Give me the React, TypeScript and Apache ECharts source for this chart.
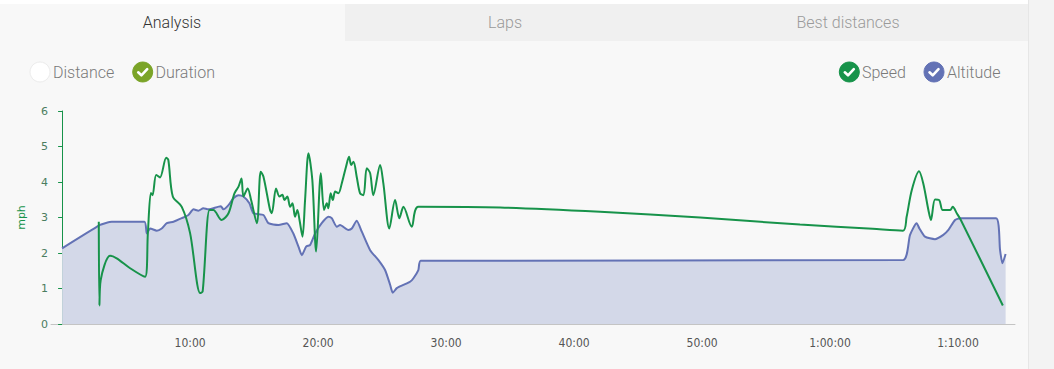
import React, { useEffect, useRef } from "react";
import * as echarts from "echarts";

// Elapsed time (seconds) and speed (mph)
const speedTime = [
  172, 175, 181, 225, 256, 319, 389, 402, 416, 424, 441, 459, 488, 498, 519, 561, 600, 647, 659, 691,
  709, 748, 780, 808, 827, 841, 850, 870, 886, 913, 931, 944, 975, 983, 1003, 1019, 1033, 1042, 1056, 1069,
  1080, 1092, 1103, 1113, 1127, 1139, 1155, 1173, 1191, 1213, 1228, 1241, 1248, 1259, 1269, 1280, 1295, 1311, 1331, 1345,
  1355, 1366, 1381, 1397, 1413, 1428, 1444, 1459, 1491, 1506, 1534, 1561, 1581, 1600, 1639, 1670, 2053, 2522, 2991, 3459,
  3800, 3942, 3959, 3983, 4017, 4037, 4061, 4073, 4092, 4112, 4128, 4163, 4175, 4194, 4213, 4410,
];
const speedValue = [
  2.88, 0.52, 1.24, 1.92, 1.85, 1.57, 1.33, 2.55, 3.69, 3.63, 4.2, 4.13, 4.68, 4.62, 3.59, 3.3, 2.56, 0.87, 0.92, 3.21,
  3.21, 2.93, 3.12, 3.68, 3.87, 4.1, 3.59, 3.82, 3.49, 2.84, 4.29, 4.15, 3.21, 3.12, 3.82, 3.59, 3.64, 3.49, 3.59, 3.3,
  3.4, 3.02, 3.21, 2.93, 2.46, 3.49, 4.81, 4.06, 2.04, 4.25, 3.21, 3.4, 3.26, 3.68, 3.49, 3.73, 3.68, 3.96, 4.43, 4.71,
  4.48, 4.57, 4.15, 3.68, 3.63, 4.39, 4.25, 3.63, 4.48, 3.96, 2.69, 3.49, 2.98, 3.3, 2.74, 3.3, 3.28, 3.16, 3.0, 2.8,
  2.68, 2.63, 3.02, 3.77, 4.3, 3.96, 3.21, 2.93, 3.51, 3.49, 3.21, 3.21, 3.3, 3.12, 2.93, 0.52,
];

// Elapsed time (seconds) and altitude (drawn on the same 0–6 scale)
const altTime = [
  0, 178, 202, 233, 386, 397, 413, 444, 467, 491, 522, 561, 592, 616, 639, 662, 686, 744, 756, 780,
  803, 827, 850, 878, 897, 944, 967, 1014, 1053, 1084, 1108, 1124, 1144, 1163, 1186, 1217, 1248, 1264, 1288, 1303,
  1342, 1358, 1381, 1405, 1444, 1483, 1514, 1538, 1550, 1569, 1600, 1631, 1647, 1670, 1681, 3942, 3975, 4006, 4019, 4045,
  4092, 4131, 4155, 4186, 4209, 4378, 4397, 4408, 4423,
];
const altValue = [
  2.13, 2.79, 2.84, 2.88, 2.88, 2.55, 2.69, 2.63, 2.69, 2.84, 2.88, 2.98, 3.07, 3.23, 3.19, 3.26, 3.23, 3.32, 3.23, 3.35,
  3.54, 3.63, 3.59, 3.4, 3.12, 3.07, 2.84, 2.79, 2.84, 2.55, 2.18, 1.94, 2.18, 2.23, 2.55, 2.84, 3.02, 2.98, 2.74, 2.79,
  2.65, 2.69, 2.91, 2.6, 2.08, 1.8, 1.52, 1.1, 0.88, 1.01, 1.1, 1.19, 1.29, 1.52, 1.78, 1.8, 2.51, 2.84, 2.69, 2.46,
  2.39, 2.51, 2.65, 2.93, 2.98, 2.98, 2.08, 1.71, 1.97,
];

const xTickValues = [600, 1200, 1800, 2400, 3000, 3600, 4200];
const tabLabels = ["Analysis", "Laps", "Best distances"];

const SPEED = "#17934a";
const ALT = "#6372b5";
const DURATION = "#7ba428";

function fmtTime(s: number): string {
  const h = Math.floor(s / 3600);
  const m = Math.floor((s % 3600) / 60);
  const sec = Math.round(s % 60);
  const pad = (n: number) => (n < 10 ? "0" + n : "" + n);
  return h > 0 ? `${h}:${pad(m)}:${pad(sec)}` : `${m}:${pad(sec)}`;
}

function checkBadge(cx: number, cy: number, fill: string, checked: boolean) {
  const children: any[] = [
    {
      type: "circle",
      shape: { cx, cy, r: 10 },
      style: { fill: checked ? fill : "#ffffff", stroke: checked ? fill : "#ececec", lineWidth: 1 },
    },
  ];
  if (checked) {
    children.push({
      type: "polyline",
      shape: { points: [[cx - 4.5, cy + 0.3], [cx - 1.3, cy + 3.3], [cx + 4.5, cy - 2.8]] },
      style: { stroke: "#ffffff", lineWidth: 2.6, fill: null, lineCap: "round", lineJoin: "round" },
    });
  }
  return { type: "group", children };
}

export default function App() {
  const ref = useRef<HTMLDivElement>(null);

  useEffect(() => {
    if (!ref.current) return;
    const chart = echarts.init(ref.current, null, { renderer: "svg" });

    const speedData = speedTime.map((t, i) => [t, speedValue[i]]);
    const altData = altTime.map((t, i) => [t, altValue[i]]);

    const legendFont = { fontSize: 16, fontFamily: "Roboto", fontWeight: 300 as any, fill: "#7a7a7a" };

    const graphics: any[] = [
      { type: "rect", shape: { x: 0, y: 0, width: 1054, height: 4 }, style: { fill: "#ffffff" } },
      { type: "rect", shape: { x: 1029, y: 0, width: 25, height: 369 }, style: { fill: "#f3f3f3" } },
      { type: "rect", shape: { x: 1028, y: 0, width: 1, height: 369 }, style: { fill: "#e6e6e6" } },
      { type: "rect", shape: { x: 0, y: 4, width: 345, height: 37 }, style: { fill: "#f8f8f8" } },
      { type: "rect", shape: { x: 345, y: 4, width: 683, height: 37 }, style: { fill: "#f0f0f0" } },
      {
        type: "text",
        x: 172,
        y: 22,
        style: { text: tabLabels[0], fill: "#333333", fontSize: 16, fontFamily: "Roboto", fontWeight: 300, textAlign: "center", textVerticalAlign: "middle" },
      },
      {
        type: "text",
        x: 505,
        y: 22,
        style: { text: tabLabels[1], fill: "#9a9a9a", fontSize: 16, fontFamily: "Roboto", fontWeight: 300, textAlign: "center", textVerticalAlign: "middle" },
      },
      {
        type: "text",
        x: 848,
        y: 22,
        style: { text: tabLabels[2], fill: "#9a9a9a", fontSize: 16, fontFamily: "Roboto", fontWeight: 300, textAlign: "center", textVerticalAlign: "middle" },
      },
      checkBadge(40, 72, "#ffffff", false),
      { type: "text", x: 53, y: 72, style: { ...legendFont, text: "Distance", textVerticalAlign: "middle" } },
      checkBadge(142.7, 72, DURATION, true),
      { type: "text", x: 155.5, y: 72, style: { ...legendFont, text: "Duration", textVerticalAlign: "middle" } },
      checkBadge(849.3, 72, SPEED, true),
      { type: "text", x: 862, y: 72, style: { ...legendFont, text: "Speed", textVerticalAlign: "middle" } },
      checkBadge(934, 72, ALT, true),
      { type: "text", x: 947, y: 72, style: { ...legendFont, text: "Altitude", textVerticalAlign: "middle" } },
    ];

    chart.setOption({
      animation: false,
      backgroundColor: "#f8f8f8",
      grid: { left: 51, right: 39, top: 111, bottom: 45, containLabel: false },
      graphic: graphics,
      xAxis: {
        type: "value",
        min: -52,
        max: 4467,
        axisLine: { show: true, lineStyle: { color: "#c4c4c4", width: 1 } },
        axisTick: { show: false },
        splitLine: { show: false },
        axisLabel: {
          customValues: xTickValues,
          formatter: (v: number) => fmtTime(v),
          color: "#555555",
          fontSize: 12,
          fontFamily: "DejaVu Sans Condensed, Liberation Sans Narrow, sans-serif",
          margin: 13,
        },
      },
      yAxis: [
        {
          type: "value",
          min: 0,
          max: 6,
          interval: 1,
          name: "mph",
          nameLocation: "middle",
          nameRotate: 90,
          nameGap: 24,
          nameTextStyle: { color: SPEED, fontSize: 11, fontFamily: "DejaVu Sans" },
          axisLine: { show: true, lineStyle: { color: SPEED, width: 1 } },
          axisTick: { show: true, length: 4, lineStyle: { color: SPEED } },
          splitLine: { show: false },
          axisLabel: { color: "#4b7d60", fontSize: 11, fontFamily: "DejaVu Sans", margin: 3 },
        },
        { type: "value", min: 0, max: 6, show: false },
      ],
      series: [
        {
          name: "Altitude",
          type: "line",
          yAxisIndex: 1,
          data: altData,
          symbol: "none",
          smooth: 0.2,
          lineStyle: { color: ALT, width: 2 },
          areaStyle: { color: "#d3d8e8", opacity: 1 },
          z: 1,
        },
        {
          name: "Speed",
          type: "line",
          yAxisIndex: 0,
          data: speedData,
          symbol: "none",
          smooth: 0.3,
          lineStyle: { color: SPEED, width: 2 },
          z: 2,
        },
      ],
    });

    return () => chart.dispose();
  }, []);

  return (
    <div
      ref={ref}
      style={{ position: "fixed", left: 0, top: 0, width: 1054, height: 369 }}
    />
  );
}
